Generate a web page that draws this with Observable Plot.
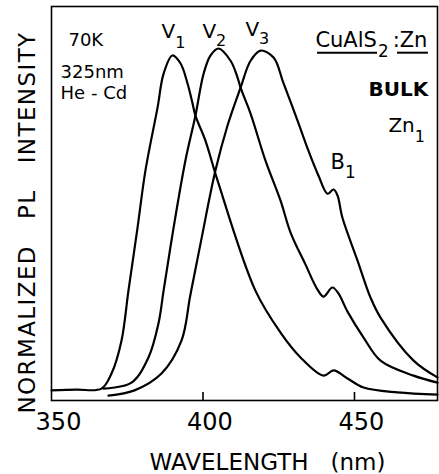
<!DOCTYPE html>
<html>
<head>
<meta charset="utf-8">
<script src="https://cdn.jsdelivr.net/npm/d3@7"></script>
<script src="https://cdn.jsdelivr.net/npm/@observablehq/plot@0.6"></script>
<style>
  html, body { margin: 0; padding: 0; background: #fff; }
  svg { display: block; }
</style>
</head>
<body>
<div id="chart"></div>
<script>
// Wavelength (nm) and normalized PL intensity
const v1Wavelength = [350.0, 358.3, 366.5, 369.8, 373.1, 375.4, 378.4, 381.0, 385.0, 387.0, 389.9, 392.6, 394.9, 396.5, 397.5, 400.8, 404.8, 417.3, 425.6, 432.2, 439.8, 443.1, 447.7, 453.0, 464.2, 477.4];
const v1Intensity  = [0.029, 0.031, 0.034, 0.077, 0.171, 0.314, 0.494, 0.657, 0.837, 0.934, 0.986, 0.963, 0.906, 0.851, 0.814, 0.743, 0.629, 0.314, 0.194, 0.123, 0.071, 0.086, 0.063, 0.037, 0.023, 0.017];

const v2Wavelength = [367.2, 376.4, 382.0, 385.3, 387.0, 390.3, 394.2, 397.5, 400.2, 402.5, 405.1, 409.1, 411.4, 412.4, 415.7, 420.6, 425.6, 428.9, 433.8, 437.8, 439.8, 442.7, 444.7, 447.7, 453.0, 458.6, 469.5, 477.4];
const v2Intensity  = [0.034, 0.051, 0.123, 0.220, 0.314, 0.494, 0.686, 0.814, 0.934, 0.986, 1.006, 0.971, 0.923, 0.894, 0.820, 0.686, 0.571, 0.480, 0.389, 0.317, 0.297, 0.323, 0.306, 0.254, 0.180, 0.114, 0.071, 0.051];

const v3Wavelength = [368.8, 377.4, 386.3, 392.9, 395.8, 399.2, 404.1, 408.1, 412.4, 415.7, 419.0, 423.3, 426.6, 431.2, 434.8, 438.1, 441.1, 443.1, 444.4, 446.0, 451.0, 455.3, 458.6, 469.5, 477.4];
const v3Intensity  = [0.014, 0.029, 0.077, 0.171, 0.300, 0.449, 0.657, 0.786, 0.894, 0.971, 1.000, 0.980, 0.906, 0.800, 0.714, 0.643, 0.591, 0.603, 0.586, 0.523, 0.400, 0.294, 0.237, 0.114, 0.066];

const seriesNames = ["V1", "V2", "V3"];
const xTicks = [350, 400, 450];
const innerTicks = [400, 450];
const xLabel = "WAVELENGTH   (nm)";
const yLabel = "NORMALIZED\u00a0\u00a0\u00a0PL\u00a0\u00a0\u00a0INTENSITY";

// Annotations ("_" marks a subscript)
const notes = [
  {text: "70K",     x: 355.6, y: 1.014, size: 18, weight: "normal"},
  {text: "325nm",   x: 353.0, y: 0.923, size: 18, weight: "normal"},
  {text: "He - Cd", x: 353.0, y: 0.863, size: 18, weight: "normal"},
  {text: "V_1",     x: 386.3, y: 1.037, size: 20, weight: "normal", sdx: 0, sdy: 10},
  {text: "V_2",     x: 399.8, y: 1.037, size: 20, weight: "normal", sdx: 0, sdy: 8},
  {text: "V_3",     x: 414.0, y: 1.043, size: 20, weight: "normal", sdx: 0, sdy: 8},
  {text: "CuAlS_2", x: 437.1, y: 1.009, size: 21, weight: "normal", sdx: 1, sdy: 10},
  {text: ":Zn",     x: 462.6, y: 1.009, size: 21, weight: "normal"},
  {text: "BULK",    x: 454.6, y: 0.871, size: 20, weight: "bold"},
  {text: "Zn_1",    x: 461.2, y: 0.766, size: 20, weight: "normal", sdx: 0, sdy: 10},
  {text: "B_1",     x: 442.1, y: 0.663, size: 21, weight: "normal", sdx: 0, sdy: 9}
];
const underlines = [
  {x1: 437.8, x2: 457.6, y: 0.994},
  {x1: 464.2, x2: 474.4, y: 0.994}
];

const data = [];
[[v1Wavelength, v1Intensity], [v2Wavelength, v2Intensity], [v3Wavelength, v3Intensity]].forEach(([w, v], i) => {
  w.forEach((x, j) => data.push({series: seriesNames[i], x, y: v[j]}));
});

const font = "DejaVu Sans, sans-serif";
const textMarks = [...new Set(notes.map(d => d.size + "|" + d.weight))].map(key => {
  const [size, weight] = key.split("|");
  return Plot.text(notes.filter(d => d.size == size && d.weight === weight), {
    x: "x", y: "y", text: "text", textAnchor: "start", lineAnchor: "bottom",
    fontSize: +size, fontWeight: weight, fill: "black", fontFamily: font
  });
});

const chart = Plot.plot({
  width: 439,
  height: 474,
  marginLeft: 51,
  marginRight: 2,
  marginTop: 6,
  marginBottom: 74,
  style: {fontFamily: font, background: "white", color: "black"},
  x: {domain: [350, 477.4]},
  y: {domain: [0, 1.126]},
  marks: [
    Plot.frame({stroke: "black", strokeWidth: 1.6}),
    Plot.ruleX(innerTicks, {y1: 0, y2: 0.023, stroke: "black", strokeWidth: 1.6}),
    Plot.line(data, {x: "x", y: "y", z: "series", stroke: "black", strokeWidth: 2.2, curve: "catmull-rom"}),
    Plot.axisX(xTicks, {tickSize: 0, tickPadding: 3, dy: 9, dx: 7, fontSize: 24, label: null, fontFamily: font}),
    Plot.axisY({ticks: [], label: null, tickSize: 0}),
    Plot.text([xLabel], {frameAnchor: "bottom", textAnchor: "middle", lineAnchor: "middle", dy: 62, dx: 23, fontSize: 23, fontFamily: font}),
    Plot.text([yLabel], {frameAnchor: "left", textAnchor: "middle", lineAnchor: "middle", rotate: -90, dx: -24, dy: 19, fontSize: 23, fontFamily: font}),
    Plot.ruleY(underlines, {y: "y", x1: "x1", x2: "x2", stroke: "black", strokeWidth: 2}),
    ...textMarks
  ]
});

// Turn "A_b" annotation strings into real SVG text with a subscript tspan
const noteByText = new Map(notes.map(d => [d.text, d]));
const ns = "http://www.w3.org/2000/svg";
chart.querySelectorAll("text").forEach(t => {
  const s = t.textContent;
  if (s === yLabel) { t.setAttribute("letter-spacing", "1.4"); return; }
  if (!s.includes("_") || !noteByText.has(s)) return;
  const d = noteByText.get(s);
  const [main, sub] = s.split("_");
  while (t.firstChild) t.removeChild(t.firstChild);
  const a = document.createElementNS(ns, "tspan");
  a.textContent = main;
  const b = document.createElementNS(ns, "tspan");
  b.textContent = sub;
  b.setAttribute("dx", d.sdx);
  b.setAttribute("dy", d.sdy);
  b.setAttribute("font-size", "0.8em");
  t.appendChild(a);
  t.appendChild(b);
});
document.getElementById("chart").appendChild(chart);
</script>
</body>
</html>
